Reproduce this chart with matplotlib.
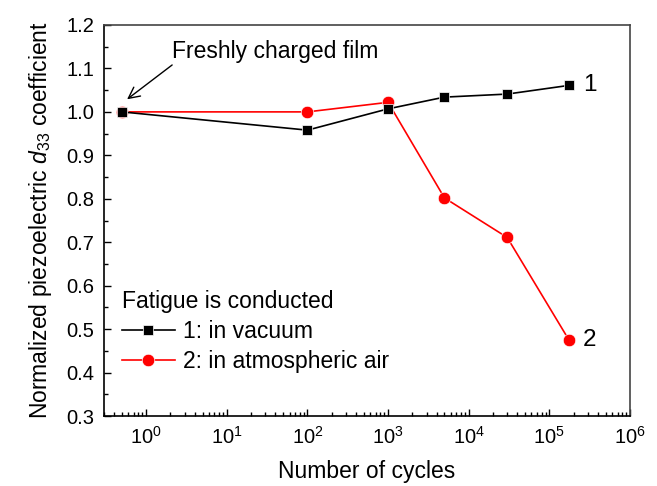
import matplotlib
matplotlib.use("Agg")
import matplotlib.pyplot as plt
from matplotlib.ticker import LogLocator, MultipleLocator, NullFormatter

plt.rcParams['font.family'] = ['Liberation Sans', 'DejaVu Sans']
plt.rcParams['mathtext.fontset'] = 'custom'
plt.rcParams['mathtext.rm'] = 'Liberation Sans'
plt.rcParams['mathtext.it'] = 'Liberation Sans:italic'

# Fatigue data: normalized d33 vs number of cycles
cycles = [0.5, 100, 1000, 5000, 30000, 175000]
vacuum = [1.000, 0.958, 1.007, 1.034, 1.041, 1.061]
air = [1.000, 1.000, 1.022, 0.802, 0.711, 0.475]
labels = ["1: in vacuum", "2: in atmospheric air"]

FS = 16.5

fig = plt.figure(figsize=(6.57, 4.86), dpi=100)
ax = fig.add_axes([104/657, 1 - 416/486, (630-104)/657, (416-25)/486])

ax.plot(cycles, vacuum, '-s', color='black', lw=1.2, ms=7.5, mec='white', mew=0.5,
        label=labels[0], zorder=3)
ax.plot(cycles, air, '-o', color='red', lw=1.2, ms=9, mec='white', mew=0.5,
        label=labels[1], zorder=2)

ax.set_xscale('log')
ax.set_xlim(0.3, 1e6)
ax.set_ylim(0.3, 1.2)
ax.yaxis.set_major_locator(MultipleLocator(0.1))
ax.yaxis.set_minor_locator(MultipleLocator(0.05))
ax.xaxis.set_major_locator(LogLocator(base=10, numticks=20))
ax.xaxis.set_minor_locator(LogLocator(base=10, subs=range(2, 10), numticks=20))
ax.xaxis.set_minor_formatter(NullFormatter())
ax.yaxis.set_major_formatter(plt.FuncFormatter(lambda v, p: f"{v:.1f}"))

ax.tick_params(which='both', direction='in', top=False, right=False,
               labelsize=14.5, width=1.0)
ax.tick_params(which='major', length=5, pad=7)
ax.tick_params(which='minor', length=3)
for s in ax.spines.values():
    s.set_linewidth(1.2)
ax.spines['right'].set_color('#444444')
ax.spines['top'].set_color('#444444')

ax.set_xlabel("Number of cycles", fontsize=FS, labelpad=9)
ax.set_ylabel(r"Normalized piezoelectric $d_{33}$ coefficient", fontsize=FS, labelpad=9)

ax.text(2.1, 1.14, "Freshly charged film", fontsize=FS, ha='left', va='center')
ax.annotate("", xy=(0.58, 1.029), xytext=(2.1, 1.108),
            arrowprops=dict(arrowstyle='->', color='black', lw=1.0,
                            shrinkA=0, shrinkB=0, mutation_scale=20))

ax.text(2.6e5, vacuum[-1], "1", fontsize=FS + 1, ha='left', va='center')
ax.text(2.6e5, air[-1], "2", fontsize=FS + 1, ha='left', va='center')

leg = ax.legend(title="Fatigue is conducted", loc='upper left',
                bbox_to_anchor=(0.034, 0.322), frameon=False, fontsize=FS,
                title_fontsize=FS, handlelength=2.3, handletextpad=0.35,
                labelspacing=0.3, borderaxespad=0.0, borderpad=0.0)
leg._legend_box.align = 'left'

fig.savefig("out.png", dpi=100)
